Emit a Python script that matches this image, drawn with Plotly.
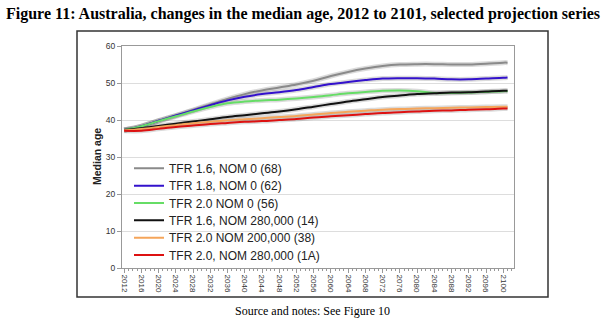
import plotly.graph_objects as go

years = [2012, 2016, 2020, 2024, 2028, 2032, 2036, 2040, 2044, 2048, 2052, 2056,
         2060, 2064, 2068, 2072, 2076, 2080, 2084, 2088, 2092, 2096, 2100, 2101]

tfr16_nom0 = [37.3, 38.3, 39.8, 41.2, 42.7, 44.2, 45.7, 47.0, 48.0, 48.8, 49.6, 50.6,
              51.9, 53.0, 53.9, 54.6, 55.0, 55.1, 55.1, 55.0, 55.0, 55.2, 55.5, 55.5]
tfr18_nom0 = [37.3, 38.3, 39.8, 41.2, 42.6, 44.0, 45.3, 46.3, 47.0, 47.5, 48.1, 48.9,
              49.7, 50.3, 50.8, 51.2, 51.3, 51.3, 51.2, 51.0, 51.0, 51.2, 51.4, 51.5]
tfr20_nom0 = [37.3, 38.3, 39.7, 41.0, 42.3, 43.5, 44.5, 45.0, 45.3, 45.5, 45.8, 46.2,
              46.7, 47.2, 47.6, 47.9, 48.0, 47.8, 47.3, 47.3, 47.4, 47.6, 47.8, 47.8]
tfr16_nom280 = [37.3, 37.8, 38.4, 39.0, 39.6, 40.2, 40.8, 41.3, 41.8, 42.3, 42.9, 43.6,
                44.3, 45.0, 45.6, 46.2, 46.6, 47.0, 47.2, 47.4, 47.5, 47.7, 47.9, 47.9]
tfr20_nom200 = [37.2, 37.6, 38.1, 38.6, 39.1, 39.5, 39.9, 40.2, 40.5, 40.8, 41.1, 41.5,
                41.9, 42.2, 42.5, 42.8, 43.0, 43.1, 43.2, 43.3, 43.4, 43.5, 43.6, 43.6]
tfr20_nom280 = [37.1, 37.1, 37.6, 38.1, 38.5, 38.9, 39.2, 39.5, 39.7, 40.0, 40.3, 40.7,
                41.0, 41.3, 41.6, 41.9, 42.1, 42.3, 42.5, 42.6, 42.8, 42.9, 43.1, 43.1]

series_names = ["TFR 1.6, NOM 0 (68)", "TFR 1.8, NOM 0 (62)", "TFR 2.0 NOM 0 (56)",
                "TFR 1.6, NOM 280,000 (14)", "TFR 2.0 NOM 200,000 (38)",
                "TFR 2.0, NOM 280,000 (1A)"]
series_values = [tfr16_nom0, tfr18_nom0, tfr20_nom0, tfr16_nom280, tfr20_nom200, tfr20_nom280]
colors = ["#8a8a8a", "#3311cc", "#66dd66", "#111111", "#f5a55a", "#dd1111"]

tick_years = list(range(2012, 2101, 4))
tick_labels = [str(y) for y in tick_years]
y_ticks = [0, 10, 20, 30, 40, 50, 60]

PX_L, PX_R, PX_T, PX_B = 122, 514, 46, 268
W, H = 607, 325

def px2x(px):
    return (px - PX_L) / (PX_R - PX_L)

def py2y(py):
    return (PX_B - py) / (PX_B - PX_T)

fig = go.Figure()

# soft shadows under the lines
for vals in series_values:
    fig.add_trace(go.Scatter(x=years, y=vals, mode="lines", line_shape="spline",
                             line=dict(color="rgba(110,110,110,0.25)", width=5),
                             showlegend=False, hoverinfo="skip"))

legend_layouts = {}
for i, (name, vals, col) in enumerate(zip(series_names, series_values, colors)):
    key = "legend" if i == 0 else f"legend{i + 1}"
    fig.add_trace(go.Scatter(x=years, y=vals, mode="lines", name=name, line_shape="spline",
                             line=dict(color=col, width=2), legend=key))
    legend_layouts[key] = dict(
        x=px2x(129), y=py2y(168.3 + 17.35 * i), xanchor="left", yanchor="middle",
        bgcolor="rgba(0,0,0,0)", borderwidth=0, itemwidth=30,
        font=dict(size=12, family="Arial, Liberation Sans, sans-serif", color="#222"))

fig.update_layout(
    width=W, height=H,
    margin=dict(l=PX_L, r=W - PX_R, t=PX_T, b=H - PX_B),
    paper_bgcolor="white", plot_bgcolor="white",
    font=dict(family="Arial, Liberation Sans, sans-serif", color="#222"),
    showlegend=True,
    xaxis=dict(range=[2011.5, 2102.5], tickmode="array", tickvals=tick_years,
               ticktext=tick_labels, tickangle=90, tickfont=dict(size=8, color="#333"),
               showgrid=False, zeroline=False, showline=True, linecolor="#999",
               linewidth=1, mirror=True, ticks="outside", ticklen=4, tickcolor="#999",
               minor=dict(dtick=1, tick0=2012, ticks="outside", ticklen=2, tickcolor="#999")),
    yaxis=dict(range=[0, 60], tickvals=y_ticks, tickfont=dict(size=8.5, color="#333"),
               showgrid=True, gridcolor="#dddddd", gridwidth=1, zeroline=False,
               showline=True, linecolor="#999", linewidth=1, mirror=True,
               ticks="outside", ticklen=4, tickcolor="#999"),
    shapes=[
        dict(type="rect", xref="paper", yref="paper",
             x0=px2x(77), x1=px2x(548), y0=py2y(297), y1=py2y(31),
             line=dict(color="#333", width=1.5), fillcolor="rgba(0,0,0,0)", layer="below"),
        # white backdrop of the legend, hiding the gridlines behind it
        dict(type="rect", xref="paper", yref="paper",
             x0=px2x(124), x1=px2x(317), y0=py2y(264), y1=py2y(160),
             line=dict(width=0), fillcolor="white", layer="below"),
    ],
    annotations=[
        dict(text="<b>Figure 11: Australia, changes in the median age, 2012 to 2101, selected projection series</b>",
             xref="paper", yref="paper", x=px2x(4), y=py2y(14), xanchor="left", yanchor="middle",
             showarrow=False, font=dict(family="Liberation Serif, Times New Roman, serif", size=16, color="black")),
        dict(text="Source and notes: See Figure 10", xref="paper", yref="paper",
             x=px2x(312), y=py2y(311), xanchor="center", yanchor="middle", showarrow=False,
             font=dict(family="Liberation Serif, Times New Roman, serif", size=12, color="black")),
        dict(text="<b>Median age</b>", xref="paper", yref="paper", x=px2x(97), y=py2y(157),
             xanchor="center", yanchor="middle", textangle=-90, showarrow=False,
             font=dict(size=10.5, color="#222")),
    ],
    **legend_layouts,
)

fig.write_html("out.html")
